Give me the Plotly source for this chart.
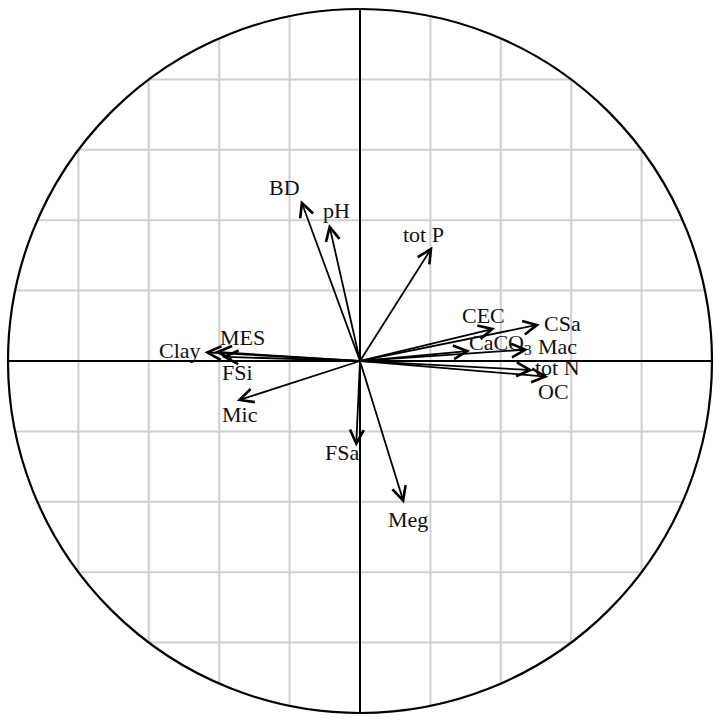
import numpy as np
import plotly.graph_objects as go

# Variables and their loadings (correlation circle coordinates)
variables = ["BD", "pH", "tot P", "Clay", "MES", "FSi", "Mic", "FSa", "Meg",
             "CEC", "CSa", "CaCO<sub>3</sub>", "Mac", "tot N", "OC"]
pc1 = [-0.168, -0.088, 0.206, -0.442, -0.412, -0.393, -0.350, -0.011, 0.125,
       0.384, 0.511, 0.313, 0.478, 0.492, 0.535]
pc2 = [0.457, 0.389, 0.325, 0.025, 0.026, 0.012, -0.113, -0.243, -0.404,
       0.093, 0.104, 0.029, 0.033, -0.026, -0.045]

# label pixel offsets from the arrow tip (styling)
label_shift = {
    "BD": (-16, 13), "pH": (7, 14), "tot P": (-9, 12), "Clay": (-24, 2),
    "MES": (28, 14), "FSi": (16, -16), "Mic": (3, -14), "FSa": (-14, -6),
    "Meg": (4, -16), "CEC": (-12, 13), "CSa": (23, 1), "CaCO<sub>3</sub>": (30, 7),
    "Mac": (29, 3), "tot N": (24, 3), "OC": (5, -15),
}

grid_vals = [-0.8, -0.6, -0.4, -0.2, 0.2, 0.4, 0.6, 0.8]

fig = go.Figure()

# grid lines clipped to the unit circle
gx, gy = [], []
for g in grid_vals:
    h = float(np.sqrt(1 - g * g))
    gx += [g, g, None, -h, h, None]
    gy += [-h, h, None, g, g, None]
fig.add_trace(go.Scatter(x=gx, y=gy, mode="lines",
                         line=dict(color="#cfcfcf", width=2),
                         hoverinfo="skip", showlegend=False))
# axes
fig.add_trace(go.Scatter(x=[-1, 1, None, 0, 0], y=[0, 0, None, -1, 1], mode="lines",
                         line=dict(color="black", width=2),
                         hoverinfo="skip", showlegend=False))

fig.add_shape(type="circle", x0=-1, y0=-1, x1=1, y1=1,
              line=dict(color="black", width=2.2), layer="above")

font = dict(family="Liberation Serif, Times New Roman, serif", size=22, color="#111")
for name, x, y in zip(variables, pc1, pc2):
    fig.add_annotation(x=x, y=y, ax=0, ay=0, axref="x", ayref="y",
                       xref="x", yref="y", text="", showarrow=True,
                       arrowhead=5, arrowsize=1.5, arrowwidth=1.8,
                       arrowcolor="black", standoff=0)
    dx, dy = label_shift[name]
    fig.add_annotation(x=x, y=y, xref="x", yref="y", text=name, showarrow=False,
                       xshift=dx, yshift=dy, font=font)

fig.update_layout(
    width=720, height=724,
    margin=dict(l=0, r=0, t=0, b=0),
    paper_bgcolor="white", plot_bgcolor="white",
    xaxis=dict(range=[-360 / 352, 360 / 352], visible=False, showgrid=False,
               zeroline=False, fixedrange=True),
    yaxis=dict(range=[-363 / 352, 361 / 352], visible=False, showgrid=False,
               zeroline=False, fixedrange=True),
    showlegend=False,
)

fig.write_html("out.html", config={"displayModeBar": False},
               post_script="document.body.style.margin='0px';document.body.style.overflow='hidden';")
